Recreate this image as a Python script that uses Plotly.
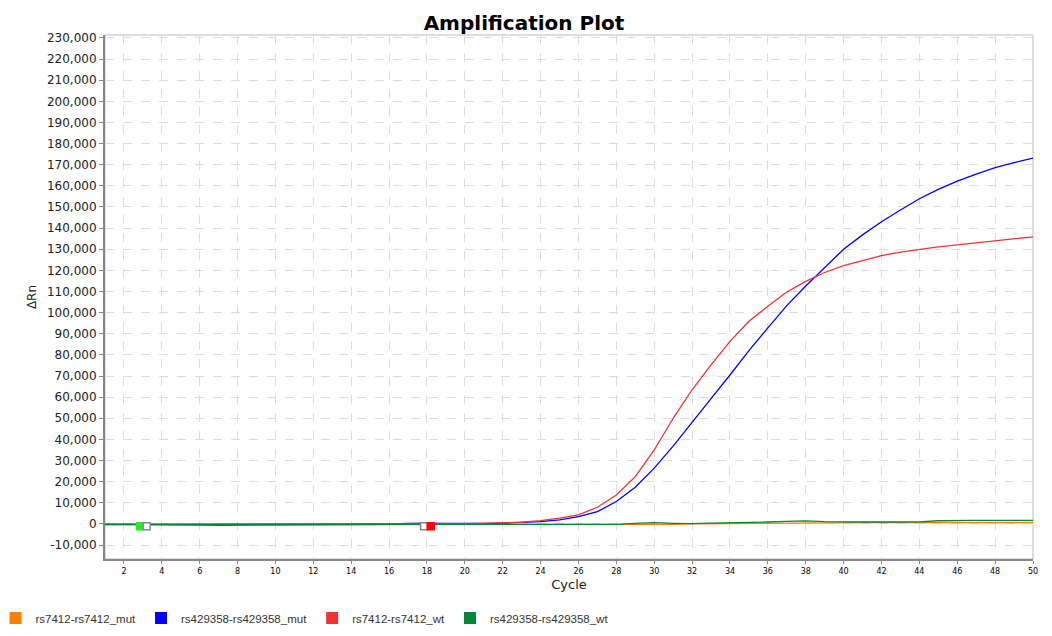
import plotly.graph_objects as go

cycles = list(range(1, 51))

# rs7412-rs7412_mut (orange) - flat baseline
mut_7412 = [-300, -300, -300, -250, -200, -200, -250, -300, -250, -200,
            -200, -200, -200, -250, -250, -200, -200, -250, -300, -300,
            -300, -300, -300, -300, -300, -350, -400, -450, -450, -400,
            -200, 0, 100, 200, 300, 400, 500, 550, 600, 600,
            600, 600, 600, 600, 500, 500, 500, 550, 600, 600]

# rs429358-rs429358_mut (blue)
mut_429358 = [-100, -100, -100, -200, -300, -450, -500, -450, -350, -400,
              -450, -450, -400, -400, -350, -150, 200, 400, 200, 100,
              200, 400, 600, 1100, 1900, 3500, 5800, 10600, 17400, 26400,
              36800, 48300, 59300, 70500, 82000, 92800, 103300, 112600, 121400, 130000,
              136800, 143000, 148600, 153900, 158300, 162200, 165600, 168600, 171000, 173100]

# rs7412-rs7412_wt (red)
wt_7412 = [-100, -100, -100, -50, 0, -100, -150, -200, -100, 0,
           0, 0, 0, 50, 100, 100, 150, 0, -50, 100,
           300, 500, 800, 1600, 2700, 4300, 7900, 13700, 22400, 35000,
           50000, 63500, 75300, 86400, 95900, 103000, 109800, 114800, 119000, 122300,
           124800, 127000, 128600, 129900, 131100, 132100, 133000, 133800, 134800, 135900]

# rs429358-rs429358_wt (green)
wt_429358 = [-300, -300, -350, -200, -100, -200, -300, -300, -250, -300,
             -300, -250, -200, -250, -300, -250, -200, -300, -300, -250,
             -200, -100, 0, 0, 0, 0, -100, -200, 300, 600,
             300, 100, 400, 500, 600, 900, 1200, 1400, 1100, 900,
             900, 900, 900, 1000, 1500, 1700, 1700, 1700, 1700, 1700]

series = [
    ("rs7412-rs7412_mut", mut_7412, "#FF8000"),
    ("rs429358-rs429358_mut", mut_429358, "#0000FF"),
    ("rs7412-rs7412_wt", wt_7412, "#EE3333"),
    ("rs429358-rs429358_wt", wt_429358, "#00873C"),
]

# threshold / baseline markers shown on the baseline
marker_x = [2.85, 3.2, 17.85, 18.2]
marker_y = [-1100, -1100, -1100, -1100]
marker_fill = ["#22EE22", "white", "white", "#FF0000"]
marker_line = ["#22EE22", "#888888", "#888888", "#FF0000"]

ytick_vals = list(range(-10000, 230001, 10000))
ytick_text = [f"{v:,}" for v in ytick_vals]
xtick_vals = list(range(2, 51, 2))

fig = go.Figure()
for name, vals, col in series:
    fig.add_trace(go.Scatter(x=cycles, y=vals, mode="lines", name=name,
                             line=dict(color=col, width=1.3), showlegend=False))
for name, vals, col in series:
    # legend entry with a square swatch
    fig.add_trace(go.Scatter(x=[None], y=[None], mode="markers", name=name,
                             marker=dict(symbol="square", size=12, color=col)))

fig.add_trace(go.Scatter(x=marker_x, y=marker_y, mode="markers", showlegend=False,
                         marker=dict(symbol="square", size=7, color=marker_fill,
                                     line=dict(color=marker_line, width=1.5))))

# page body has an 8px margin, so margins are trimmed to land the plot area in place
fig.update_layout(
    width=1052, height=636,
    margin=dict(l=97, r=27, t=27, b=85, autoexpand=False),
    paper_bgcolor="white", plot_bgcolor="white",
    title=dict(text="<b>Amplification Plot</b>", x=0.4905, xref="container",
               xanchor="center", y=0.988, yanchor="top",
               font=dict(family="DejaVu Sans", size=20, color="black")),
    legend=dict(orientation="h", x=-0.118, xanchor="left", y=-0.085, yanchor="top",
                font=dict(family="Liberation Sans", size=11.5, color="#333333"),
                itemwidth=30, tracegroupgap=0),
    font=dict(family="DejaVu Sans", color="#222222"),
)

fig.update_xaxes(
    range=[1, 50], tickvals=xtick_vals, ticks="outside", ticklen=3,
    tickcolor="#888888", tickfont=dict(size=8, color="black"),
    showgrid=True, gridcolor="#DDDDDD", griddash="dash", gridwidth=1,
    showline=True, linecolor="#888888", linewidth=2, mirror=False,
    zeroline=False, automargin=False,
    title=dict(text="Cycle", font=dict(family="DejaVu Sans", size=13, color="#222222"),
               standoff=5),
)
fig.update_yaxes(
    range=[-16600, 231400], tickvals=ytick_vals, ticktext=ytick_text,
    ticks="outside", ticklen=4, tickcolor="#888888",
    tickfont=dict(size=12, color="#222222"),
    showgrid=True, gridcolor="#DDDDDD", griddash="dash", gridwidth=1,
    showline=True, linecolor="#888888", linewidth=2,
    zeroline=False, automargin=False,
    title=dict(text="ΔRn", font=dict(family="DejaVu Sans", size=12, color="#222222"),
               standoff=8),
)

# light frame on top and right
fig.add_shape(type="rect", xref="paper", yref="paper", x0=0, y0=0, x1=1, y1=1,
              line=dict(color="#BBBBBB", width=1), layer="below")

fig.write_html("out.html")
